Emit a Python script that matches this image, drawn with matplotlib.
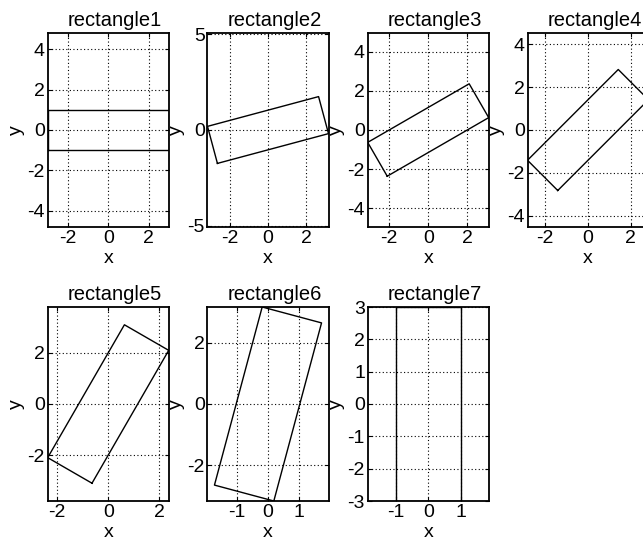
import numpy as np
import matplotlib
matplotlib.use("Agg")
import matplotlib.pyplot as plt

# ---- data ----
titles = ["rectangle1", "rectangle2", "rectangle3", "rectangle4",
          "rectangle5", "rectangle6", "rectangle7"]
angles_deg = [0, 15, 30, 45, 60, 75, 90]
half_length = 3.0
half_width = 1.0
local_x = [-half_length, half_length, half_length, -half_length, -half_length]
local_y = [-half_width, -half_width, half_width, half_width, -half_width]
xticks = [[-2, 0, 2], [-2, 0, 2], [-2, 0, 2], [-2, 0, 2], [-2, 0, 2],
          [-1, 0, 1], [-1, 0, 1]]
yticks = [[-4, -2, 0, 2, 4], [-5, 0, 5], [-4, -2, 0, 2, 4], [-4, -2, 0, 2, 4],
          [-2, 0, 2], [-2, 0, 2], [-3, -2, -1, 0, 1, 2, 3]]

plt.rcParams.update({
    "font.family": ["Liberation Sans", "DejaVu Sans"],
    "font.size": 14,
    "axes.unicode_minus": False,
})

W, H = 643, 543
fig = plt.figure(figsize=(W / 100, H / 100), dpi=100)
col_left = [47.7, 207.5, 367.7, 527.5]
row_top = [33, 307]
aw, ah = 121.0, 194.0
ratio = ah / aw

for i, (title, ang) in enumerate(zip(titles, angles_deg)):
    r, c = divmod(i, 4)
    ax = fig.add_axes([col_left[c] / W, (H - row_top[r] - ah) / H, aw / W, ah / H])
    t = np.deg2rad(ang)
    lx = np.array(local_x)
    ly = np.array(local_y)
    xs = np.round(lx * np.cos(t) - ly * np.sin(t), 12)
    ys = np.round(lx * np.sin(t) + ly * np.cos(t), 12)
    ax.plot(xs, ys, color="k", lw=1.0, zorder=3)
    xe = np.max(np.abs(xs))
    ye = np.max(np.abs(ys))
    if ye / xe > ratio:
        ax.set_ylim(-ye, ye)
        ax.set_xlim(-ye / ratio, ye / ratio)
    else:
        ax.set_xlim(-xe, xe)
        ax.set_ylim(-xe * ratio, xe * ratio)
    ax.set_xticks(xticks[i])
    ax.set_yticks(yticks[i])
    ax.grid(True, linestyle=(0, (1, 2.2)), color="k", linewidth=0.8)
    ax.tick_params(direction="in", top=True, right=True, length=3, width=0.8, pad=2)
    for s in ax.spines.values():
        s.set_linewidth(1.3)
    ax.set_title(title, fontsize=14.5, pad=5, x=0.555)
    ax.set_xlabel("x", labelpad=2)
    ax.set_ylabel("y", labelpad=1.5)

fig.savefig("out.png", dpi=100)
